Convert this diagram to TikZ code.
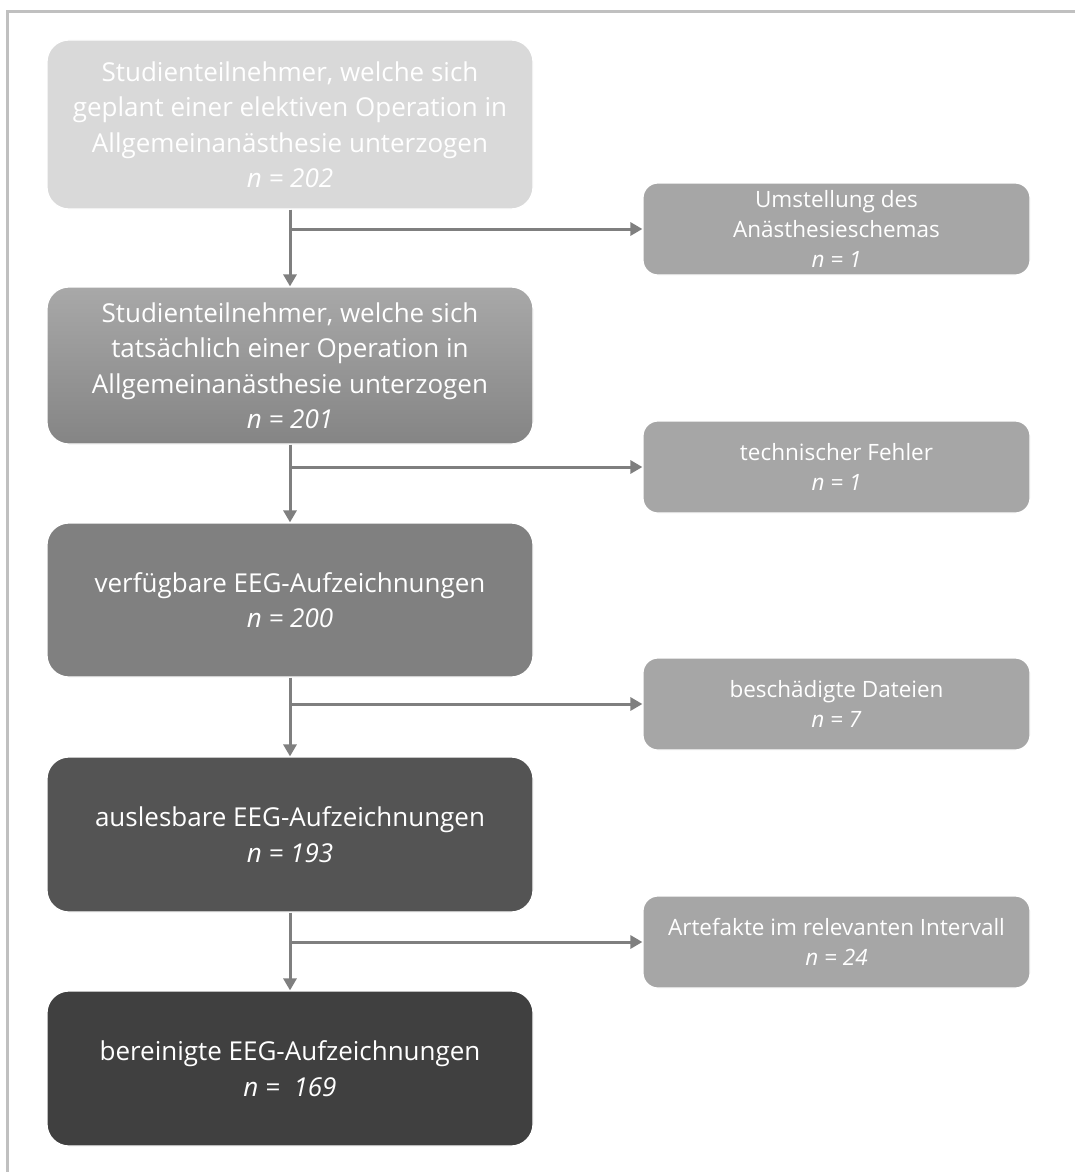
\documentclass[tikz,border=0pt]{standalone}
\usepackage{fontspec}
\setmainfont{Open Sans}
\usepackage{tikz}
\usetikzlibrary{arrows.meta}
\definecolor{framegray}{HTML}{C0C0C0}
\definecolor{arrgray}{HTML}{7F7F7F}
\definecolor{sidegray}{HTML}{A6A6A6}

\begin{document}
\begin{tikzpicture}[x=1pt,y=-1pt,
                mainbox/.style n args={2}{rectangle,fill=#1,
                    draw=white,line width=1.2pt,
                    minimum width=486pt,
                    minimum height=#2pt,
                    rounded corners=22pt,
                    text=white,align=center,
                    font=\fontsize{26}{35.5}\selectfont},
                sidebox/.style={rectangle,fill=sidegray,
                    draw=white,line width=1.2pt,
                    minimum width=387pt,
                    minimum height=92pt,
                    rounded corners=15pt,
                    text=white,align=center,
                    font=\fontsize{22.5}{30}\selectfont},
                flow/.style={draw=arrgray,line width=3pt,
                    -{Triangle[length=12pt,width=13pt]}}]
                \useasboundingbox (0,0) rectangle (1075,1172);
                \draw[framegray,line width=3pt] (1075,12) -- (7,12) -- (7,1172);
                % main column
                \node[mainbox={black!15}{169}](m1) at (290,124.5)
                    {Studienteilnehmer, welche sich\\geplant einer elektiven Operation in\\Allgemeinanästhesie unterzogen\\\textit{n = 202}};
                \node[mainbox={black!40}{157},top color=black!34,bottom color=black!48](m2) at (290,365.5)
                    {Studienteilnehmer, welche sich\\tatsächlich einer Operation in\\Allgemeinanästhesie unterzogen\\\textit{n = 201}};
                \node[mainbox={black!50}{154}](m3) at (290,600)
                    {verfügbare EEG-Aufzeichnungen\\\textit{n = 200}};
                \node[mainbox={black!67}{155}](m4) at (290,834.5)
                    {auslesbare EEG-Aufzeichnungen\\\textit{n = 193}};
                \node[mainbox={black!75}{155}](m5) at (290,1068.5)
                    {bereinigte EEG-Aufzeichnungen\\\textit{n =~ 169}};
                % excluded
                \node[sidebox](s1) at (836.5,229) {Umstellung des\\Anästhesieschemas\\\textit{n = 1}};
                \node[sidebox](s2) at (836.5,467) {technischer Fehler\\\textit{n = 1}};
                \node[sidebox](s3) at (836.5,704) {beschädigte Dateien\\\textit{n = 7}};
                \node[sidebox](s4) at (836.5,942) {Artefakte im relevanten Intervall\\\textit{n = 24}};
                \foreach \a/\b/\s in {m1/m2/s1,m2/m3/s2,m3/m4/s3,m4/m5/s4}{
                    \draw[flow] (\a.south) -- (\b.north);
                    \draw[flow] (\a.south |- \s.west) -- (\s.west);
                }
            \end{tikzpicture}
\end{document}
